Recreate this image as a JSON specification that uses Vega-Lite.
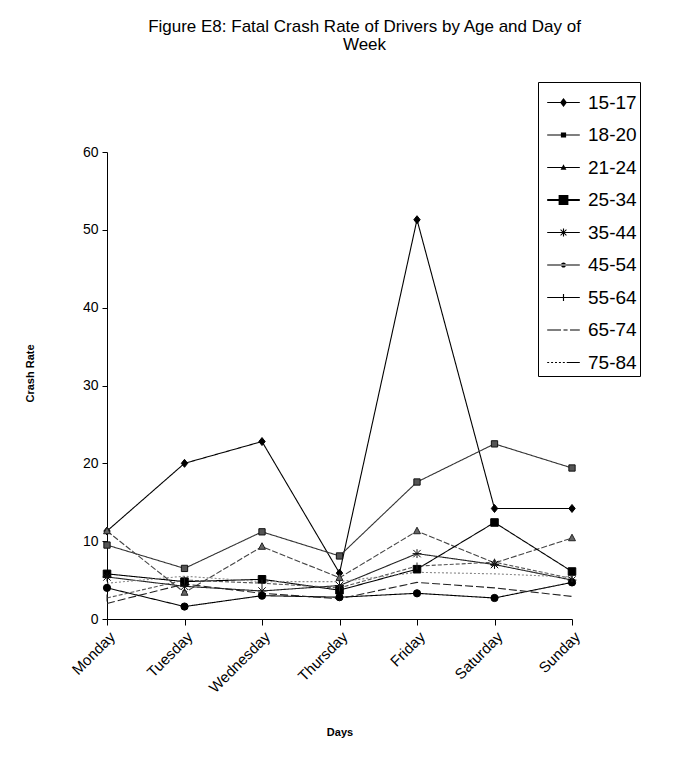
{
  "$schema": "https://vega.github.io/schema/vega-lite/v6.json",
  "width": 465,
  "height": 467,
  "autosize": {"type": "none"},
  "padding": {"left": 107, "top": 152, "right": 108, "bottom": 140},
  "background": "white",
  "config": {
    "font": "Liberation Sans",
    "view": {"stroke": null}
  },
  "title": {
    "text": ["Figure E8: Fatal Crash Rate of Drivers by Age and Day of", "Week"],
    "fontSize": 17,
    "fontWeight": "normal",
    "font": "Liberation Sans",
    "color": "black",
    "anchor": "middle",
    "frame": "group",
    "dx": 25,
    "dy": -18,
    "lineHeight": 18,
    "offset": 10
  },
  "data": {
    "values": [
      {"day": "Monday", "age": "15-17", "rate": 11.3},
      {"day": "Tuesday", "age": "15-17", "rate": 20.0},
      {"day": "Wednesday", "age": "15-17", "rate": 22.8},
      {"day": "Thursday", "age": "15-17", "rate": 5.9},
      {"day": "Friday", "age": "15-17", "rate": 51.3},
      {"day": "Saturday", "age": "15-17", "rate": 14.2},
      {"day": "Sunday", "age": "15-17", "rate": 14.2},
      {"day": "Monday", "age": "18-20", "rate": 9.5},
      {"day": "Tuesday", "age": "18-20", "rate": 6.5},
      {"day": "Wednesday", "age": "18-20", "rate": 11.2},
      {"day": "Thursday", "age": "18-20", "rate": 8.1},
      {"day": "Friday", "age": "18-20", "rate": 17.6},
      {"day": "Saturday", "age": "18-20", "rate": 22.5},
      {"day": "Sunday", "age": "18-20", "rate": 19.4},
      {"day": "Monday", "age": "21-24", "rate": 11.3},
      {"day": "Tuesday", "age": "21-24", "rate": 3.4},
      {"day": "Wednesday", "age": "21-24", "rate": 9.3},
      {"day": "Thursday", "age": "21-24", "rate": 5.3},
      {"day": "Friday", "age": "21-24", "rate": 11.3},
      {"day": "Saturday", "age": "21-24", "rate": 7.2},
      {"day": "Sunday", "age": "21-24", "rate": 10.4},
      {"day": "Monday", "age": "25-34", "rate": 5.8},
      {"day": "Tuesday", "age": "25-34", "rate": 4.8},
      {"day": "Wednesday", "age": "25-34", "rate": 5.1},
      {"day": "Thursday", "age": "25-34", "rate": 3.7},
      {"day": "Friday", "age": "25-34", "rate": 6.4},
      {"day": "Saturday", "age": "25-34", "rate": 12.4},
      {"day": "Sunday", "age": "25-34", "rate": 6.1},
      {"day": "Monday", "age": "35-44", "rate": 5.4},
      {"day": "Tuesday", "age": "35-44", "rate": 4.2},
      {"day": "Wednesday", "age": "35-44", "rate": 3.6},
      {"day": "Thursday", "age": "35-44", "rate": 4.3},
      {"day": "Friday", "age": "35-44", "rate": 8.4},
      {"day": "Saturday", "age": "35-44", "rate": 7.0},
      {"day": "Sunday", "age": "35-44", "rate": 5.0},
      {"day": "Monday", "age": "45-54", "rate": 4.0},
      {"day": "Tuesday", "age": "45-54", "rate": 1.6},
      {"day": "Wednesday", "age": "45-54", "rate": 3.0},
      {"day": "Thursday", "age": "45-54", "rate": 2.8},
      {"day": "Friday", "age": "45-54", "rate": 3.3},
      {"day": "Saturday", "age": "45-54", "rate": 2.7},
      {"day": "Sunday", "age": "45-54", "rate": 4.7},
      {"day": "Monday", "age": "55-64", "rate": 2.7},
      {"day": "Tuesday", "age": "55-64", "rate": 5.0},
      {"day": "Wednesday", "age": "55-64", "rate": 4.6},
      {"day": "Thursday", "age": "55-64", "rate": 4.0},
      {"day": "Friday", "age": "55-64", "rate": 6.8},
      {"day": "Saturday", "age": "55-64", "rate": 7.3},
      {"day": "Sunday", "age": "55-64", "rate": 5.2},
      {"day": "Monday", "age": "65-74", "rate": 2.0},
      {"day": "Tuesday", "age": "65-74", "rate": 4.5},
      {"day": "Wednesday", "age": "65-74", "rate": 3.3},
      {"day": "Thursday", "age": "65-74", "rate": 2.6},
      {"day": "Friday", "age": "65-74", "rate": 4.7},
      {"day": "Saturday", "age": "65-74", "rate": 4.0},
      {"day": "Sunday", "age": "65-74", "rate": 2.9},
      {"day": "Monday", "age": "75-84", "rate": 4.6},
      {"day": "Tuesday", "age": "75-84", "rate": 5.5},
      {"day": "Wednesday", "age": "75-84", "rate": 4.8},
      {"day": "Thursday", "age": "75-84", "rate": 4.8},
      {"day": "Friday", "age": "75-84", "rate": 6.0},
      {"day": "Saturday", "age": "75-84", "rate": 5.8},
      {"day": "Sunday", "age": "75-84", "rate": 5.4}
    ]
  },
  "encoding": {
    "x": {
      "field": "day",
      "type": "nominal",
      "sort": ["Monday", "Tuesday", "Wednesday", "Thursday", "Friday", "Saturday", "Sunday"],
      "scale": {"type": "point", "padding": 0},
      "axis": {
        "title": "Days",
        "titleFontSize": 11,
        "titleFontWeight": "bold",
        "titleColor": "black",
        "titleY": 113,
        "titleBaseline": "middle",
        "labelAngle": -45,
        "labelFontSize": 15,
        "labelColor": "black",
        "labelPadding": 4,
        "tickSize": 6,
        "tickColor": "black",
        "domainColor": "black",
        "grid": false
      }
    },
    "y": {
      "field": "rate",
      "type": "quantitative",
      "scale": {"domain": [0, 60], "nice": false},
      "axis": {
        "title": "Crash Rate",
        "titleFontSize": 11,
        "titleFontWeight": "bold",
        "titleColor": "black",
        "titleX": -77,
        "titleY": 221,
        "titleBaseline": "middle",
        "values": [0, 10, 20, 30, 40, 50, 60],
        "labelFontSize": 14,
        "labelColor": "black",
        "labelPadding": 4,
        "tickSize": 5,
        "tickColor": "black",
        "domainColor": "black",
        "grid": false
      }
    }
  },
  "layer": [
    {
      "mark": {"type": "line", "strokeWidth": 1.1},
      "encoding": {
        "detail": {"field": "age"},
        "stroke": {
          "field": "age",
          "type": "nominal",
          "scale": {
            "domain": ["15-17", "18-20", "21-24", "25-34", "35-44", "45-54", "55-64", "65-74", "75-84"],
            "range": ["#000000", "#333333", "#444444", "#000000", "#222222", "#000000", "#555555", "#222222", "#888888"]
          },
          "legend": null
        },
        "strokeDash": {
          "field": "age",
          "type": "nominal",
          "scale": {
            "domain": ["15-17", "18-20", "21-24", "25-34", "35-44", "45-54", "55-64", "65-74", "75-84"],
            "range": [[1, 0], [1, 0], [6, 2], [1, 0], [1, 0], [1, 0], [4, 2], [8, 3], [2, 2]]
          },
          "legend": null
        }
      }
    },
    {
      "mark": {"type": "point", "filled": true, "strokeWidth": 1, "opacity": 1},
      "transform": [{"filter": "datum.age !== '65-74' && datum.age !== '75-84'"}],
      "encoding": {
        "shape": {
          "field": "age",
          "type": "nominal",
          "scale": {
            "domain": ["15-17", "18-20", "21-24", "25-34", "35-44", "45-54", "55-64"],
            "range": [
              "M0,-1L0.8,0L0,1L-0.8,0Z",
              "M-0.8,-0.8H0.8V0.8H-0.8Z",
              "M0,-1L0.9,0.7H-0.9Z",
              "M-1,-1H1V1H-1Z",
              "M-1,-1L1,1M-1,1L1,-1M0,-1.2V1.2M-1.2,0H1.2",
              "circle",
              "M0,-1V1"
            ]
          },
          "legend": null
        },
        "size": {
          "field": "age",
          "type": "nominal",
          "scale": {
            "domain": ["15-17", "18-20", "21-24", "25-34", "35-44", "45-54", "55-64"],
            "range": [64, 50, 50, 120, 40, 30, 50]
          },
          "legend": null
        },
        "fill": {
          "field": "age",
          "type": "nominal",
          "scale": {
            "domain": ["15-17", "18-20", "21-24", "25-34", "35-44", "45-54", "55-64"],
            "range": ["#000000", "#555555", "#666666", "#000000", "#222222", "#000000", "#444444"]
          },
          "legend": null
        },
        "stroke": {
          "field": "age",
          "type": "nominal",
          "scale": {
            "domain": ["15-17", "18-20", "21-24", "25-34", "35-44", "45-54", "55-64"],
            "range": ["#000000", "#111111", "#222222", "#000000", "#111111", "#000000", "#222222"]
          },
          "legend": null
        }
      }
    },
    {
      "mark": {"type": "point", "filled": true, "size": 1063, "color": "black", "opacity": 1},
      "transform": [{"filter": "datum.rate < 0"}],
      "encoding": {
        "shape": {
          "field": "age",
          "type": "nominal",
          "scale": {
            "domain": ["15-17", "18-20", "21-24", "25-34", "35-44", "45-54", "55-64", "65-74", "75-84"],
            "range": [
              "M-1,-0.032H1V0.032H-1ZM0,-0.27L0.21,0L0,0.27L-0.21,0Z",
              "M-1,-0.032H1V0.032H-1ZM-0.16,-0.16H0.16V0.16H-0.16Z",
              "M-1,-0.032H1V0.032H-1ZM0,-0.2L0.18,0.14H-0.18Z",
              "M-1,-0.06H1V0.06H-1ZM-0.3,-0.3H0.3V0.3H-0.3Z",
              "M-1,-0.032H1V0.032H-1ZM-0.035,-0.25H0.035V0.25H-0.035ZM-0.2,-0.16L-0.16,-0.2L0.2,0.16L0.16,0.2ZM-0.2,0.16L0.16,-0.2L0.2,-0.16L-0.16,0.2Z",
              "M-1,-0.032H1V0.032H-1ZM-0.16,0A0.16,0.16 0 1,0 0.16,0A0.16,0.16 0 1,0 -0.16,0Z",
              "M-1,-0.032H1V0.032H-1ZM-0.035,-0.22H0.035V0.22H-0.035Z",
              "M-1,-0.032H-0.15V0.032H-1ZM0,-0.032H0.25V0.032H0ZM0.4,-0.032H1V0.032H0.4Z",
              "M-1,-0.025H-0.88V0.025H-1ZM-0.76,-0.025H-0.64V0.025H-0.76ZM-0.52,-0.025H-0.4V0.025H-0.52ZM-0.28,-0.025H-0.16V0.025H-0.28ZM-0.04,-0.025H0.08V0.025H-0.04ZM0.2,-0.025H1V0.025H0.2Z"
            ]
          },
          "legend": {
            "title": null,
            "orient": "none",
            "legendX": 431,
            "legendY": -70,
            "padding": 3,
            "symbolOffset": 5,
            "strokeColor": "black",
            "fillColor": "white",
            "symbolSize": 1063,
            "symbolFillColor": "black",
            "symbolOpacity": 1,
            "labelFontSize": 19,
            "labelFont": "Liberation Sans",
            "labelColor": "black",
            "labelOffset": 7,
            "rowPadding": 4.5,
            "labelLimit": 200
          }
        }
      }
    }
  ],
  "resolve": {"scale": {"shape": "independent", "stroke": "independent"}, "legend": {"shape": "independent"}}
}
